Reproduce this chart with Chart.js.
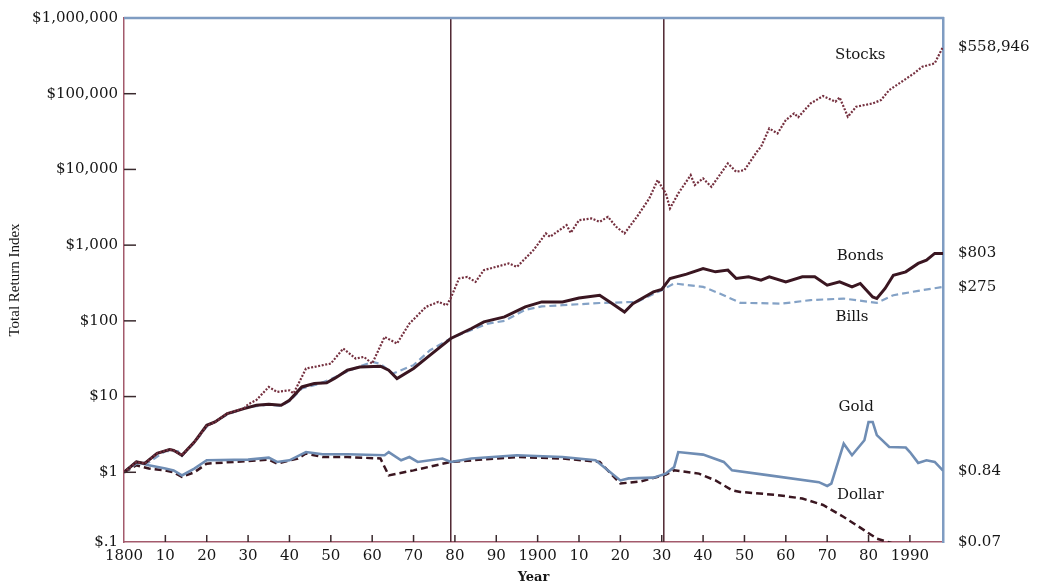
<!DOCTYPE html>
<html>
<head>
<meta charset="utf-8">
<script src="https://cdn.jsdelivr.net/npm/chart.js@4.4.1/dist/chart.umd.min.js"></script>
<style>
  html, body { margin: 0; padding: 0; background: #ffffff; }
  #wrap { width: 1048px; height: 588px; position: relative; }
</style>
</head>
<body>
<div id="wrap"><canvas id="c" width="1048" height="588"></canvas></div>
<script>
// ---------------- DATA (real total return index, $1 invested) ----------------
const stockYears  = [1800,1803,1805,1808,1811,1812,1814,1817,1820,1822,1825,1829,1830,1832,1835,1837,1840,1841,1844,1846,1850,1853,1856,1858,1860,1863,1866,1869,1873,1876,1878,1879,1881,1883,1885,1887,1890,1893,1895,1899,1902,1903,1907,1908,1910,1913,1915,1917,1919,1921,1924,1927,1929,1931,1932,1934,1937,1938,1940,1942,1946,1948,1950,1953,1954,1956,1958,1960,1962,1963,1966,1969,1972,1973,1975,1977,1981,1983,1985,1988,1991,1993,1996,1998];
const stockValues = [1.0,1.37,1.3,1.78,2.0,1.95,1.68,2.5,4.1,4.6,6.0,7.0,7.9,9.0,13.4,11.5,12.1,11.0,23.5,24.6,27.3,43,31.8,33.4,27.3,61.4,50.2,92,153,178,161,200,363,381,327,468,517,573,517,859,1429,1290,1837,1455,2138,2254,2032,2366,1746,1429,2366,4140,7230,4820,3055,4820,8414,6210,7610,5890,12000,9310,9800,17100,19900,34800,29900,44900,55000,49000,74500,93100,78300,89500,49600,67300,74500,82400,111700,143800,185800,227000,251700,417000];

const bondYears  = [1800,1803,1805,1808,1811,1812,1814,1817,1820,1822,1825,1829,1832,1835,1838,1840,1843,1846,1849,1851,1854,1857,1862,1864,1866,1870,1874,1879,1884,1887,1892,1897,1901,1906,1910,1915,1918,1921,1923,1928,1930,1932,1936,1940,1943,1946,1948,1951,1954,1956,1960,1964,1967,1970,1973,1976,1978,1981,1982,1984,1986,1989,1992,1994,1996,1998];
const bondValues = [1.0,1.37,1.31,1.78,2.0,1.95,1.68,2.51,4.18,4.62,5.96,6.94,7.67,7.92,7.67,8.94,13.4,14.9,15.2,17.5,22.3,24.6,25.2,22.3,17.3,23.5,35.2,58.5,79.3,96.9,113,153,178,178,200,218,169,131,169,241,260,363,414,492,444,468,363,381,345,381,327,381,381,296,327,281,312,207,197,268,401,444,573,634,777,777];

const billYears  = [1800,1803,1806,1810,1813,1814,1817,1820,1825,1830,1835,1838,1840,1843,1847,1850,1854,1857,1860,1862,1865,1870,1874,1879,1884,1888,1892,1897,1901,1906,1915,1924,1930,1933,1940,1944,1949,1959,1966,1974,1982,1986,1992,1998];
const billValues = [1.0,1.3,1.35,1.9,1.9,1.65,2.45,4.0,5.8,7.3,7.8,7.5,8.7,12.8,14.6,17,21.5,25,28.7,27,20.1,26,41,58.5,76,92,100,140,155,161,172,178,254,312,281,230,173,169,188,197,173,218,249,281];

const goldYears  = [1800,1803,1806,1810,1812,1814,1817,1820,1830,1835,1837,1840,1844,1848,1854,1863,1864,1867,1869,1871,1877,1879,1884,1895,1906,1914,1920,1922,1928,1931,1933,1934,1940,1945,1947,1956,1968,1970,1971,1974,1976,1979,1980,1981,1982,1985,1989,1990,1992,1994,1996,1998];
const goldValues = [1.0,1.37,1.24,1.12,1.06,0.91,1.12,1.44,1.47,1.56,1.37,1.44,1.85,1.73,1.73,1.68,1.85,1.44,1.59,1.37,1.52,1.37,1.52,1.68,1.59,1.44,0.78,0.83,0.85,0.96,1.17,1.85,1.71,1.37,1.06,0.91,0.74,0.66,0.71,2.39,1.68,2.65,4.62,4.62,3.1,2.16,2.12,1.85,1.33,1.44,1.37,1.05];

const dollarYears  = [1800,1803,1806,1810,1812,1814,1817,1820,1830,1835,1837,1842,1844,1848,1854,1862,1864,1870,1879,1890,1895,1906,1915,1920,1925,1931,1933,1939,1943,1947,1949,1958,1964,1969,1974,1979,1982,1987,1998];
const dollarValues = [1.0,1.24,1.12,1.06,1.0,0.87,1.0,1.30,1.41,1.47,1.30,1.52,1.77,1.59,1.59,1.52,0.91,1.06,1.37,1.52,1.59,1.52,1.37,0.71,0.76,0.93,1.06,0.96,0.78,0.58,0.55,0.50,0.45,0.37,0.257,0.171,0.133,0.11,0.07];

const seriesNames = ['Stocks', 'Bonds', 'Bills', 'Gold', 'Dollar'];
const endLabels   = ['$558,946', '$803', '$275', '$0.84', '$0.07'];

const tickYears   = [1800,1810,1820,1830,1840,1850,1860,1870,1880,1890,1900,1910,1920,1930,1940,1950,1960,1970,1980,1990];
const yAxisMin    = 0.12;
const yAxisMax    = 1000000;
const yTickValues = [yAxisMin, 1, 10, 100, 1000, 10000, 100000, 1000000];
const yTickLabels = ['$.1', '$1', '$10', '$100', '$1,000', '$10,000', '$100,000', '$1,000,000'];
const periodBreaks = [1879, 1930.5];

// label anchors (data coordinates) for the series names
const nameAnchorYears  = [1978, 1978, 1976, 1977, 1978];
const nameAnchorValues = [324000, 716, 112, 7.2, 0.5];

// ---------------- CHART ----------------
const pts = (xs, ys) => xs.map((x, i) => ({ x: x, y: ys[i] }));
const serif = 'DejaVu Serif';
const axisRed = '#a35a6c';
const frameBlue = '#7f9cc2';
const textCol = '#161616';

const datasets = [
  { label: seriesNames[0], data: pts(stockYears, stockValues),  borderColor: '#75303f', borderWidth: 2.2, borderDash: [2, 1.6] },
  { label: seriesNames[1], data: pts(bondYears, bondValues),    borderColor: '#3a1621', borderWidth: 3 },
  { label: seriesNames[2], data: pts(billYears, billValues),    borderColor: '#84a2c6', borderWidth: 2.2, borderDash: [7, 4] },
  { label: seriesNames[3], data: pts(goldYears, goldValues),    borderColor: '#6f8db4', borderWidth: 2.6 },
  { label: seriesNames[4], data: pts(dollarYears, dollarValues),borderColor: '#3a1620', borderWidth: 2.5, borderDash: [7, 4] }
].map(d => Object.assign(d, { pointRadius: 0, tension: 0, fill: false, yAxisID: 'y' }));

const endValues = [stockValues, bondValues, billValues, goldValues, dollarValues].map(a => a[a.length - 1]);

const noVPad = s => { s.paddingTop = 0; s.paddingBottom = 0; };

const decor = {
  id: 'decor',
  beforeDatasetsDraw(chart) {
    const { ctx, chartArea: a, scales: { x } } = chart;
    ctx.save();
    ctx.strokeStyle = '#4f2631';
    ctx.lineWidth = 1.5;
    periodBreaks.forEach(yr => {
      const px = x.getPixelForValue(yr);
      ctx.beginPath(); ctx.moveTo(px, a.top); ctx.lineTo(px, a.bottom); ctx.stroke();
    });
    ctx.restore();
  },
  afterDraw(chart) {
    const { ctx, chartArea: a, scales: { x, y } } = chart;
    ctx.save();
    // top frame line
    ctx.strokeStyle = frameBlue; ctx.lineWidth = 2.5;
    ctx.beginPath(); ctx.moveTo(a.left, a.top); ctx.lineTo(a.right + 1, a.top); ctx.stroke();
    // inward tick marks
    ctx.strokeStyle = '#3a2a2e'; ctx.lineWidth = 1.5;
    tickYears.slice(1).forEach(v => {
      const px = x.getPixelForValue(v);
      ctx.beginPath(); ctx.moveTo(px, a.bottom); ctx.lineTo(px, a.bottom - 7); ctx.stroke();
    });
    yTickValues.slice(1, -1).forEach(v => {
      const py = y.getPixelForValue(v);
      ctx.beginPath(); ctx.moveTo(a.left, py); ctx.lineTo(a.left + 12, py); ctx.stroke();
    });
    // series names
    ctx.fillStyle = textCol; ctx.font = '15px "' + serif + '"';
    ctx.textAlign = 'center'; ctx.textBaseline = 'middle';
    seriesNames.forEach((n, i) => {
      ctx.fillText(n, x.getPixelForValue(nameAnchorYears[i]), y.getPixelForValue(nameAnchorValues[i]));
    });
    ctx.restore();
  }
};

new Chart(document.getElementById('c'), {
  type: 'line',
  data: { datasets: datasets },
  options: {
    responsive: false,
    devicePixelRatio: 1,
    animation: false,
    events: [],
    layout: { padding: { top: 18, left: 0, right: 0, bottom: 0 } },
    plugins: { legend: { display: false }, tooltip: { enabled: false } },
    scales: {
      x: {
        type: 'linear', position: 'bottom', min: 1800, max: 1998,
        afterBuildTicks: s => { s.ticks = tickYears.map(v => ({ value: v })); },
        afterFit: s => { s.height = 46; s.paddingLeft = 0; s.paddingRight = 0; },
        grid: { drawOnChartArea: false, drawTicks: false },
        border: { display: true, color: axisRed, width: 1.5 },
        ticks: {
          autoSkip: false, maxRotation: 0, padding: 5, color: textCol,
          font: { family: serif, size: 15 },
          callback: v => (v === 1800 || v === 1900 || v === 1990) ? String(v) : String(v % 100)
        },
        title: { display: true, text: 'Year', color: textCol, font: { family: serif, size: 13, weight: 'bold' }, padding: { top: 0, bottom: 3 } }
      },
      y: {
        type: 'logarithmic', position: 'left', min: yAxisMin, max: yAxisMax,
        afterBuildTicks: s => { s.ticks = yTickValues.map(v => ({ value: v })); },
        afterFit: s => { s.width = 124; noVPad(s); },
        grid: { drawOnChartArea: false, drawTicks: false },
        border: { display: true, color: axisRed, width: 1.5 },
        ticks: { autoSkip: false, padding: 6, color: textCol, font: { family: serif, size: 15 }, callback: (v, i) => yTickLabels[i] },
        title: { display: true, text: 'Total Return Index', color: textCol, font: { family: 'Liberation Serif', size: 15 }, padding: { top: 6, bottom: 0 } }
      },
      yR: {
        type: 'logarithmic', position: 'right', min: yAxisMin, max: yAxisMax,
        afterBuildTicks: s => { s.ticks = endValues.map(v => ({ value: Math.max(v, yAxisMin) })); },
        afterFit: s => { s.width = 105; noVPad(s); },
        grid: { drawOnChartArea: false, drawTicks: false },
        border: { display: true, color: frameBlue, width: 2.5 },
        ticks: { autoSkip: false, padding: 15, color: textCol, font: { family: serif, size: 15 }, callback: (v, i) => endLabels[i] }
      }
    }
  },
  plugins: [decor]
});
</script>
</body>
</html>
